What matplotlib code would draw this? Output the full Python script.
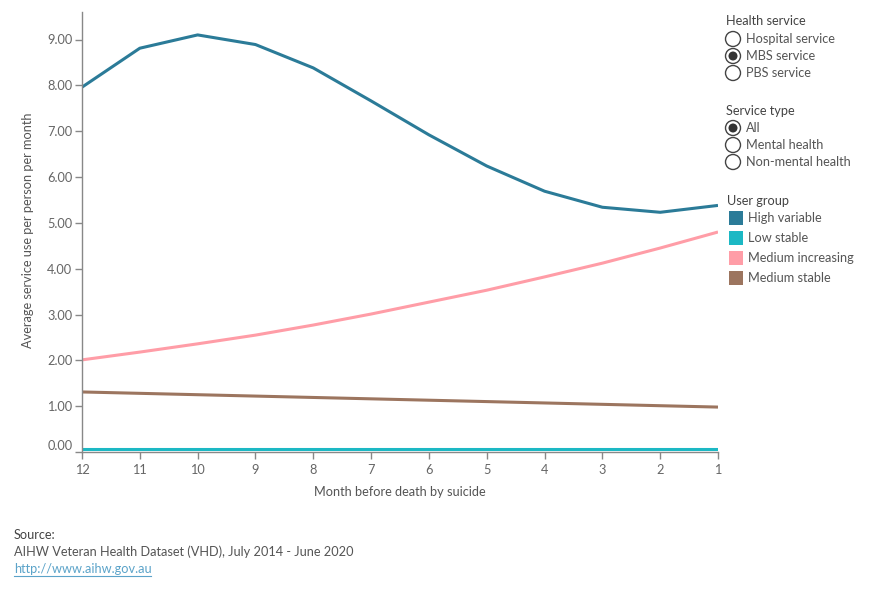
import matplotlib
matplotlib.use('Agg')
import matplotlib.pyplot as plt
from matplotlib.patches import Circle, Rectangle

plt.rcParams['font.family'] = ['Lato', 'DejaVu Sans']

# Data
months = [12, 11, 10, 9, 8, 7, 6, 5, 4, 3, 2, 1]
high_variable = [7.96, 8.81, 9.10, 8.89, 8.38, 7.66, 6.92, 6.24, 5.69, 5.34, 5.23, 5.38]
low_stable = [0.07, 0.07, 0.07, 0.07, 0.07, 0.07, 0.07, 0.07, 0.07, 0.07, 0.07, 0.07]
medium_increasing = [2.01, 2.18, 2.36, 2.55, 2.77, 3.01, 3.27, 3.53, 3.82, 4.12, 4.45, 4.80]
medium_stable = [1.31, 1.28, 1.25, 1.22, 1.19, 1.16, 1.13, 1.10, 1.07, 1.04, 1.01, 0.98]

groups = ['High variable', 'Low stable', 'Medium increasing', 'Medium stable']
colors = ['#2b7b98', '#1cb8c4', '#ff9da7', '#9c755f']
health_services = ['Hospital service', 'MBS service', 'PBS service']
service_types = ['All', 'Mental health', 'Non-mental health']
y_ticks = [0, 1, 2, 3, 4, 5, 6, 7, 8, 9]

W, H = 890, 600
FS = 9.2
fig = plt.figure(figsize=(W / 100, H / 100), dpi=100)
ax = fig.add_axes([82 / W, 1 - 452 / H, (718 - 82) / W, (452 - 12) / H])

series = [high_variable, low_stable, medium_increasing, medium_stable]
for vals, c in zip(series, colors):
    ax.plot(months, vals, color=c, linewidth=2.2, solid_capstyle='butt')

ax.set_xlim(12, 1)
ax.set_ylim(0, 9.6)
ax.set_xticks(months)
ax.set_xticklabels([str(m) for m in months])
ax.set_yticks(y_ticks)
ax.set_yticklabels(['%.2f' % v for v in y_ticks])
ax.get_yticklabels()[0].set_va('bottom')

for s in ['top', 'right']:
    ax.spines[s].set_visible(False)
for s in ['left', 'bottom']:
    ax.spines[s].set_color('#888888')
    ax.spines[s].set_linewidth(1)
ax.tick_params(axis='both', colors='#888888', labelcolor='#666666', labelsize=FS, length=5, width=1)
ax.tick_params(axis='x', pad=4)
ax.tick_params(axis='y', pad=2)

fig.text(400 / W, 1 - 492 / H, 'Month before death by suicide', ha='center', va='center',
         fontsize=FS, color='#555555')
fig.text(28 / W, 1 - 230 / H, 'Average service use per person per month', ha='center', va='center',
         rotation=90, fontsize=FS, color='#555555')

# Filter / legend panel drawn in pixel coordinates
def px(x, y):
    return x / W, 1 - y / H

def radio(y, label, selected):
    fig.patches.append(Circle((733, H - y), 7.5, transform=None, facecolor='white',
                              edgecolor='#444444', linewidth=1))
    if selected:
        fig.patches.append(Circle((733, H - y), 4.5, transform=None, facecolor='#333333',
                                  edgecolor='none'))
    fig.text(*px(746, y), label, ha='left', va='center', fontsize=FS, color='#555555')

fig.text(*px(726, 21), 'Health service', ha='left', va='center', fontsize=FS, color='#444444')
for i, name in enumerate(health_services):
    radio(39 + 17 * i, name, name == 'MBS service')

fig.text(*px(726, 111), 'Service type', ha='left', va='center', fontsize=FS, color='#444444')
for i, name in enumerate(service_types):
    radio(128 + 17 * i, name, name == 'All')

fig.text(*px(727, 201), 'User group', ha='left', va='center', fontsize=FS, color='#444444')
for i, (name, c) in enumerate(zip(groups, colors)):
    y = 218 + 20 * i
    fig.patches.append(Rectangle((729, H - y - 7), 14, 14, transform=None, facecolor=c,
                                 edgecolor='none'))
    fig.text(*px(748, y), name, ha='left', va='center', fontsize=FS, color='#555555')

# Source
fig.text(*px(14, 535), 'Source:', ha='left', va='center', fontsize=FS, color='#444444')
fig.text(*px(14, 552), 'AIHW Veteran Health Dataset (VHD), July 2014 - June 2020',
         ha='left', va='center', fontsize=FS, color='#555555')
fig.text(*px(14, 569), 'http://www.aihw.gov.au', ha='left', va='center',
         fontsize=FS, color='#5ba3c9')
fig.lines.append(plt.Line2D([14 / W, 151 / W], [1 - 576 / H, 1 - 576 / H],
                            transform=fig.transFigure, color='#5ba3c9', linewidth=0.8))

fig.savefig('out.png', dpi=100)
